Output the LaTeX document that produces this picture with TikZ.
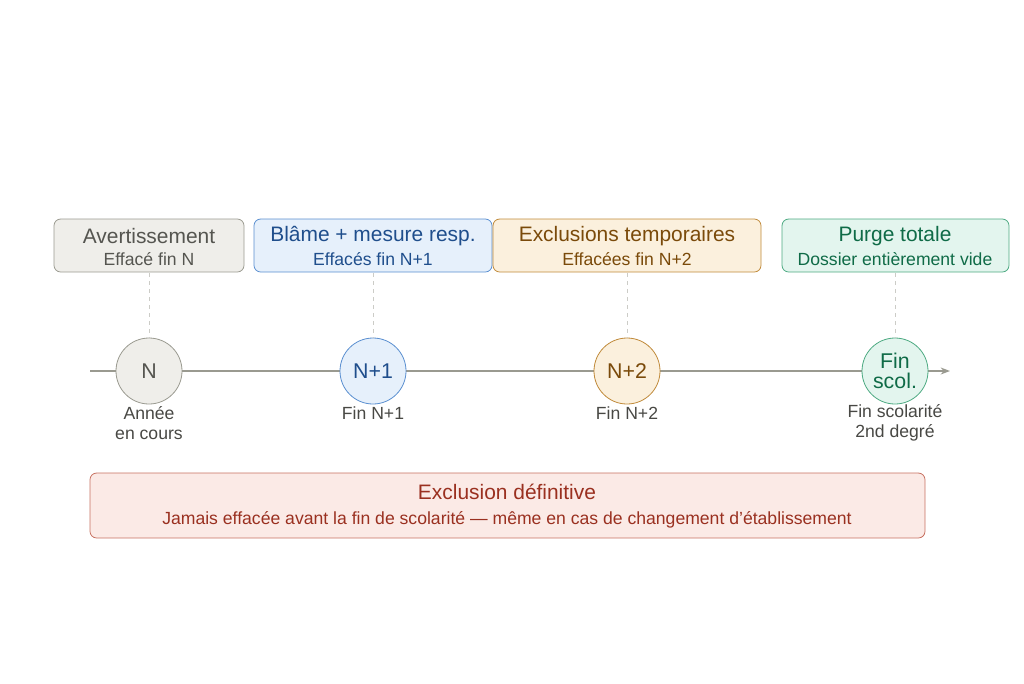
\documentclass[tikz,border=0pt]{standalone}
\usepackage{fontspec}
\setmainfont{Liberation Sans}
\usetikzlibrary{arrows.meta}
\definecolor{gF}{HTML}{EFEEEA}\definecolor{gD}{HTML}{9A9A90}\definecolor{gT}{HTML}{555550}
\definecolor{bF}{HTML}{E6F0FB}\definecolor{bD}{HTML}{5A8FD0}\definecolor{bT}{HTML}{1F4E8C}
\definecolor{oF}{HTML}{FBF0DD}\definecolor{oD}{HTML}{C08A3A}\definecolor{oT}{HTML}{7A4A0A}
\definecolor{vF}{HTML}{E3F5EE}\definecolor{vD}{HTML}{4DAA82}\definecolor{vT}{HTML}{0F6B47}
\definecolor{rF}{HTML}{FBEAE6}\definecolor{rD}{HTML}{C77060}\definecolor{rT}{HTML}{9A3020}
\begin{document}
\begin{tikzpicture}[x=0.75pt,y=-0.75pt,
 card/.style={draw=#1D,fill=#1F,rounded corners=5pt,line width=0.6pt},
 circ/.style={circle,draw=#1D,fill=#1F,minimum size=49.5pt,inner sep=0pt,text=#1T,font=\fontsize{16}{14.5}\selectfont,align=center,line width=0.6pt},
 ttl/.style={text=#1T,font=\fontsize{15.7}{18}\selectfont},
 sub/.style={text=#1T,font=\fontsize{13.2}{15}\selectfont},
 lbl/.style={text=gT!85!black,font=\fontsize{13.2}{15}\selectfont,align=center},
 guide/.style={draw=gD!50,dashed,line width=0.5pt}]
\useasboundingbox (0,0) rectangle (1024,683);
\draw[gD,line width=1pt,-{Stealth[length=7pt]}] (90,371) coordinate (a0) -- (950,371) coordinate (a1);
\node[circ=g] (n0) at (149,371) {N};
\node[circ=b] (n1) at (373,371) {N+1};
\node[circ=o] (n2) at (627,371) {N+2};
\node[circ=v] (n3) at (895,371) {Fin\\scol.};
\draw[card=g] (54,219) rectangle (244,272);
\node[ttl=g] at (149,236) {Avertissement}; \node[sub=g] at (149,259) {Effacé fin N};
\draw[card=b] (254,219) rectangle (492,272);
\node[ttl=b] at (373,236) {Blâme + mesure resp.}; \node[sub=b] at (373,259) {Effacés fin N+1};
\draw[card=o] (493,219) rectangle (761,272);
\node[ttl=o] at (627,236) {Exclusions temporaires}; \node[sub=o] at (627,259) {Effacées fin N+2};
\draw[card=v] (782,219) rectangle (1009,272);
\node[ttl=v] at (895,236) {Purge totale}; \node[sub=v] at (895,259) {Dossier entièrement vide};
\coordinate (t0) at (149,273); \coordinate (t1) at (373,273);
\coordinate (t2) at (627,273); \coordinate (t3) at (895,273);
\foreach \i in {0,1,2,3} \draw[guide] (t\i) -- (n\i.north);
\node[lbl] at (149,423) {Année\\en cours};
\node[lbl] at (373,413) {Fin N+1};
\node[lbl] at (627,413) {Fin N+2};
\node[lbl] at (895,423) {Fin scolarité\\2nd degré};
\draw[card=r] (90,473) rectangle (925,538);
\node[ttl=r] at (507,492) {Exclusion définitive};
\node[sub=r] at (507,520) {Jamais effacée avant la fin de scolarité — même en cas de changement d'établissement};
\end{tikzpicture}
\end{document}
